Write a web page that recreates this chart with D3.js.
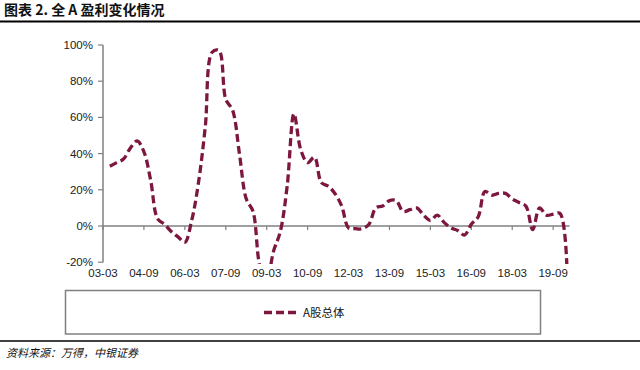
<!DOCTYPE html>
<html>
<head>
<meta charset="utf-8">
<script src="https://cdn.jsdelivr.net/npm/d3@7"></script>
<style>
  body { margin: 0; background: #fff; }
  svg { display: block; }
  .tick_label { font-family: "Liberation Sans", Arial, sans-serif; font-size: 11.5px; fill: #222; }
</style>
</head>
<body>
<svg id="main_chart" width="640" height="370"></svg>
<script>
// quarters on the category axis (first one has no value)
const quarters = [
  '03-03', '03-06', '03-09', '03-12', '04-03', '04-06', '04-09', '04-12',
  '05-03', '05-06', '05-09', '05-12', '06-03', '06-06', '06-09', '06-12',
  '07-03', '07-06', '07-09', '07-12', '08-03', '08-06', '08-09', '08-12',
  '09-03', '09-06', '09-09', '09-12', '10-03', '10-06', '10-09', '10-12',
  '11-03', '11-06', '11-09', '11-12', '12-03', '12-06', '12-09', '12-12',
  '13-03', '13-06', '13-09', '13-12', '14-03', '14-06', '14-09', '14-12',
  '15-03', '15-06', '15-09', '15-12', '16-03', '16-06', '16-09', '16-12',
  '17-03', '17-06', '17-09', '17-12', '18-03', '18-06', '18-09', '18-12',
  '19-03', '19-06', '19-09', '19-12', '20-03'
];
// A股总体 profit growth, %
const a_total = [
  null, 33, 35, 37, 43, 47, 41, 25,
  4, 1, -3, -6, -9, 3, 24, 55,
  96, 97, 70, 64, 40, 15, 8, -22,
  -30, -14, -3, 22, 62, 42, 35, 38,
  24, 22, 18, 11, -1, -1.5, -1.5, 1,
  10, 11, 14, 14, 8, 9, 10, 6,
  3, 6, 2, -1, -2.5, -5, 1, 5,
  19, 17, 18, 18, 15, 13, 11, -2,
  10, 6, 6.5, 7, -21
];
const x_ticks = ['03-03', '04-09', '06-03', '07-09', '09-03', '10-09', '12-03', '13-09', '15-03', '16-09', '18-03', '19-09'];
const y_ticks = [-20, 0, 20, 40, 60, 80, 100];

const series_name = 'A股总体';
const line_color = '#7d1740';

const svg = d3.select('#main_chart');

// TITLE AND RULES
svg.append('text')
  .attr('x', 4).attr('y', 15)
  .attr('font-family', '"Noto Sans CJK SC", sans-serif')
  .attr('font-weight', 'bold')
  .attr('font-size', 14)
  .attr('fill', '#111')
  .text('图表 2. 全 A 盈利变化情况');
svg.append('line').attr('x1', 0).attr('x2', 640).attr('y1', 21.5).attr('y2', 21.5)
  .attr('stroke', '#000').attr('stroke-width', 2);
svg.append('line').attr('x1', 0).attr('x2', 640).attr('y1', 341).attr('y2', 341)
  .attr('stroke', '#000').attr('stroke-width', 1.5);
svg.append('text')
  .attr('x', 6).attr('y', 357)
  .attr('font-family', '"Noto Sans CJK SC", sans-serif')
  .attr('font-style', 'italic')
  .attr('font-size', 11)
  .attr('fill', '#111')
  .text('资料来源：万得，中银证券');

// SCALES
const xScale = d3.scalePoint().domain(quarters).range([103, 566.8]);
const yScale = d3.scaleLinear().domain([-20, 100]).range([262.2, 45]);

// Y AXIS
svg.append('line')
  .attr('x1', 103).attr('x2', 103)
  .attr('y1', yScale(100)).attr('y2', yScale(-20))
  .attr('stroke', '#808080').attr('stroke-width', 1.5);
svg.selectAll('line.y_tick').data(y_ticks).enter().append('line')
  .attr('class', 'y_tick')
  .attr('x1', 98).attr('x2', 103)
  .attr('y1', d => yScale(d)).attr('y2', d => yScale(d))
  .attr('stroke', '#808080').attr('stroke-width', 1.2);
svg.selectAll('text.y_label').data(y_ticks).enter().append('text')
  .attr('class', 'tick_label')
  .attr('x', 93)
  .attr('y', d => yScale(d) + 4)
  .attr('text-anchor', 'end')
  .text(d => d + '%');

// X AXIS ON THE 0% LINE
svg.append('line')
  .attr('x1', 103).attr('x2', 569.5)
  .attr('y1', yScale(0)).attr('y2', yScale(0))
  .attr('stroke', '#808080').attr('stroke-width', 1.5);
svg.selectAll('line.x_tick').data(x_ticks).enter().append('line')
  .attr('class', 'x_tick')
  .attr('x1', d => xScale(d)).attr('x2', d => xScale(d))
  .attr('y1', yScale(0)).attr('y2', yScale(0) + 4)
  .attr('stroke', '#808080').attr('stroke-width', 1.2);
svg.selectAll('text.x_label').data(x_ticks).enter().append('text')
  .attr('class', 'tick_label')
  .attr('x', d => xScale(d))
  .attr('y', 277)
  .attr('text-anchor', 'middle')
  .text(d => d);

// LINE, CLIPPED TO THE PLOT AREA
svg.append('clipPath').attr('id', 'plot_clip')
  .append('rect').attr('x', 100).attr('y', 40).attr('width', 475).attr('height', 224);

const points = quarters.map((q, i) => ({ quarter: q, value: a_total[i] }));
const drawLine = d3.line()
  .defined(d => d.value !== null)
  .x(d => xScale(d.quarter))
  .y(d => yScale(d.value))
  .curve(d3.curveCatmullRom.alpha(0.5));

svg.append('path')
  .attr('d', drawLine(points))
  .attr('clip-path', 'url(#plot_clip)')
  .attr('fill', 'none')
  .attr('stroke', line_color)
  .attr('stroke-width', 3.3)
  .attr('stroke-dasharray', '8,4');

// LEGEND
svg.append('rect')
  .attr('x', 65.5).attr('y', 290.5).attr('width', 475).attr('height', 43.5)
  .attr('fill', '#fff').attr('stroke', '#808080').attr('stroke-width', 1.5);
svg.append('line')
  .attr('x1', 264).attr('x2', 300).attr('y1', 312.5).attr('y2', 312.5)
  .attr('stroke', line_color).attr('stroke-width', 3.3)
  .attr('stroke-dasharray', '8,4');
svg.append('text')
  .attr('x', 303).attr('y', 317)
  .attr('font-family', '"Noto Sans CJK SC", sans-serif')
  .attr('font-size', 11.5)
  .attr('fill', '#111')
  .text(series_name);
</script>
</body>
</html>
